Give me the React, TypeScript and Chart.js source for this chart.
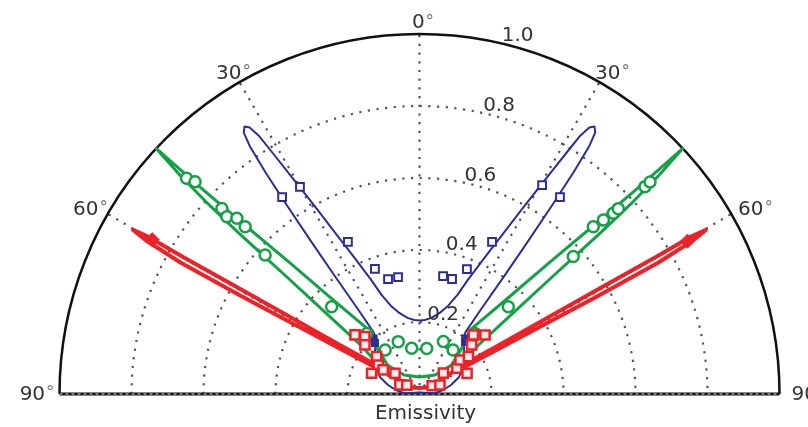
import React, { useEffect, useRef } from 'react';
import { Chart, registerables } from 'chart.js';

Chart.register(...registerables);

// ---- grid / labels ----
const RADIAL_TICKS = [0.2, 0.4, 0.6, 0.8, 1.0];
const RADIAL_LABELS = ['0.2', '0.4', '0.6', '0.8', '1.0'];
const SPOKE_ANGLES = [-90, -60, -30, 0, 30, 60, 90];
const ANGLE_LABELS = ['90°', '60°', '30°', '0°', '30°', '60°', '90°'];
const AXIS_TITLE = 'Emissivity';

// ---- blue curve (angle in degrees from normal, emissivity) ----
const BLUE_LINE_ANGLES = [
  0, -4, -9, -14, -18, -20.9, -23, -25.5, -27.5, -29.2, -30.5, -31.4, -31.9, -32.5, -33.2, -33.9, -34.4,
  -34.8, -35.1, -35.4, -35.7, -36.0, -36.6, -38.5, -41, -46, -52, -60, -67, -74, -80, -84, -87,
  0,
  87, 84, 80, 74, 67, 60, 52, 46, 41, 38.5, 36.6, 36.0, 35.7, 35.4, 35.1, 34.8,
  34.4, 33.9, 33.2, 32.5, 31.9, 31.4, 30.5, 29.2, 27.5, 25.5, 23, 20.9, 18, 14, 9, 4, 0,
];
const BLUE_LINE_R = [
  0.204, 0.206, 0.214, 0.232, 0.258, 0.294, 0.345, 0.42, 0.5, 0.6, 0.7, 0.79, 0.845, 0.878, 0.888, 0.875, 0.835,
  0.75, 0.64, 0.52, 0.4, 0.29, 0.215, 0.19, 0.186, 0.172, 0.153, 0.135, 0.119, 0.091, 0.068, 0.052, 0.04,
  0.004,
  0.04, 0.052, 0.068, 0.091, 0.119, 0.135, 0.153, 0.172, 0.188, 0.19, 0.215, 0.29, 0.4, 0.52, 0.64, 0.75,
  0.835, 0.875, 0.888, 0.878, 0.845, 0.79, 0.7, 0.6, 0.5, 0.42, 0.345, 0.294, 0.258, 0.232, 0.214, 0.206, 0.204,
];
const BLUE_SQ_ANGLES = [-34.9, -30, -25.2, -19.6, -15.3, -10.4, 11.3, 15.8, 20.8, 25.5, 30.4, 35.5];
const BLUE_SQ_R = [0.667, 0.664, 0.467, 0.369, 0.331, 0.33, 0.334, 0.332, 0.371, 0.468, 0.673, 0.672];
const BLUE_FILLED_ANGLES = [-41.1, -39.5, 41.2, 39.5];
const BLUE_FILLED_R = [0.188, 0.2, 0.192, 0.2];

// ---- green curve ----
const GREEN_LINE_ANGLES = [
  -53, -50.4, -49.2, -48.6, -48.3, -48.0, -47.6, -47.0,
  -46.9, -46.7, -46.1, -44.7, -42.8, -38.3, -42.7, -48, -39.2,
  0,
  39.2, 48, 42.7, 38.3, 42.8, 44.7, 46.1, 46.7, 46.9,
  47.0, 47.6, 48.0, 48.3, 48.6, 49.2, 50.4, 53,
];
const GREEN_LINE_R = [
  0.16, 0.206, 0.332, 0.483, 0.672, 0.8, 0.9, 1.0,
  0.95, 0.842, 0.697, 0.515, 0.37, 0.226, 0.173, 0.12, 0.068,
  0.047,
  0.068, 0.12, 0.173, 0.226, 0.37, 0.515, 0.697, 0.842, 0.95,
  1.0, 0.9, 0.8, 0.672, 0.483, 0.332, 0.206, 0.16,
];
const GREEN_CIRC_ANGLES = [
  -47.2, -46.6, -46.8, -47.4, -46.1, -46.2, -48, -45.2, -41, -38, -22.1, -9.7,
  9.0, 24.5, 37.3, 42.4, 45.5, 48.2, 46.1, 46.6, 47.0, 47.0, 47.4, 47.4,
];
const GREEN_CIRC_R = [
  0.882, 0.858, 0.753, 0.727, 0.704, 0.671, 0.577, 0.344, 0.223, 0.155, 0.157, 0.129,
  0.128, 0.16, 0.154, 0.228, 0.346, 0.573, 0.67, 0.703, 0.736, 0.755, 0.851, 0.87,
];

// ---- red curve ----
const RED_LINE_ANGLES = [
  -58.7, -60.3, -61.2, -61.2, -60.7, -60.2, -59.9, -59.9, -59.6, -58.4, -56, -57, -61, -49,
  0,
  49, 61, 57, 56, 58.4, 59.6, 59.9, 59.9, 60.2, 60.7, 61.2, 61.2, 60.3, 58.7,
];
const RED_LINE_R = [
  0.135, 0.254, 0.567, 0.755, 0.87, 0.917, 0.87, 0.755, 0.567, 0.254, 0.139, 0.081, 0.046, 0.027,
  0.017,
  0.027, 0.046, 0.081, 0.139, 0.254, 0.567, 0.755, 0.87, 0.917, 0.87, 0.755, 0.567, 0.254, 0.135,
];
const RED_SQ_ANGLES = [
  -47.5, -43.6, -48, -48.9, -54.9, -56.5, -66.6, -49.8, -65.2, -54.9,
  56.9, 66.3, 49, 55.4, 50, 52.6, 46.8, 42.4, 48, 66.5,
];
const RED_SQ_R = [
  0.243, 0.22, 0.204, 0.158, 0.14, 0.121, 0.145, 0.089, 0.06, 0.043,
  0.042, 0.062, 0.088, 0.126, 0.147, 0.171, 0.199, 0.222, 0.245, 0.144,
];
const RED_TIP_ANGLES = [-60, 60.3];
const RED_TIP_R = [0.857, 0.857];

const BLUE = '#2c2f8f';
const GREEN = '#16a048';
const RED = '#ec2229';
const TEXT = '#333333';
const FONT = '20px "DejaVu Sans", sans-serif';
const DEG_FONT = '17px "DejaVu Sans", sans-serif';

function toXY(angles: number[], radii: number[]) {
  return angles.map((a, i) => ({
    x: radii[i] * Math.sin((a * Math.PI) / 180),
    y: radii[i] * Math.cos((a * Math.PI) / 180),
  }));
}

const polarGrid = {
  id: 'polarGrid',
  beforeDatasetsDraw(chart: any) {
    const { ctx, scales } = chart;
    const cx = scales.x.getPixelForValue(0);
    const cy = scales.y.getPixelForValue(0);
    const R = scales.x.getPixelForValue(1) - cx;
    ctx.save();
    ctx.strokeStyle = '#555';
    ctx.lineWidth = 2.2;
    ctx.setLineDash([2.2, 6.5]);
    for (const t of RADIAL_TICKS) {
      if (t >= 1) continue;
      ctx.beginPath();
      ctx.arc(cx, cy, t * R, Math.PI, 2 * Math.PI);
      ctx.stroke();
    }
    for (const a of SPOKE_ANGLES) {
      if (Math.abs(a) === 90) continue;
      const rad = (a * Math.PI) / 180;
      ctx.beginPath();
      ctx.moveTo(cx, cy);
      ctx.lineTo(cx + R * Math.sin(rad), cy - R * Math.cos(rad));
      ctx.stroke();
    }
    ctx.setLineDash([]);
    ctx.strokeStyle = '#111';
    ctx.lineWidth = 2.5;
    ctx.beginPath();
    ctx.arc(cx, cy, R, Math.PI, 2 * Math.PI);
    ctx.stroke();
    ctx.lineWidth = 3;
    ctx.beginPath();
    ctx.moveTo(cx - R, cy);
    ctx.lineTo(cx + R, cy);
    ctx.stroke();
    ctx.strokeStyle = '#ddd';
    ctx.lineWidth = 1;
    ctx.setLineDash([3, 3]);
    ctx.beginPath();
    ctx.moveTo(cx - R, cy);
    ctx.lineTo(cx + R, cy);
    ctx.stroke();
    ctx.restore();
  },
  afterDatasetsDraw(chart: any) {
    const { ctx, scales } = chart;
    const cx = scales.x.getPixelForValue(0);
    const cy = scales.y.getPixelForValue(0);
    const R = scales.x.getPixelForValue(1) - cx;
    ctx.save();
    ctx.fillStyle = TEXT;
    ctx.textBaseline = 'middle';
    SPOKE_ANGLES.forEach((a, i) => {
      const rad = (a * Math.PI) / 180;
      const s = Math.abs(Math.sin(rad));
      const rl = R * 1.033 + 14 * s;
      const px = cx + rl * Math.sin(rad) + 3;
      const py = cy - rl * Math.cos(rad) + 8 * Math.abs(Math.sin(2 * rad)) + 1;
      const label = ANGLE_LABELS[i];
      const digits = label.slice(0, -1);
      const deg = label.slice(-1);
      ctx.font = FONT;
      const w1 = ctx.measureText(digits).width;
      ctx.font = DEG_FONT;
      const w2 = ctx.measureText(deg).width;
      const left = px - (w1 + w2) / 2;
      ctx.textAlign = 'left';
      ctx.font = FONT;
      ctx.fillStyle = TEXT;
      ctx.fillText(digits, left, py);
      ctx.font = DEG_FONT;
      ctx.fillStyle = '#777';
      ctx.fillText(deg, left + w1 + 1, py - 1);
    });
    ctx.fillStyle = TEXT;
    ctx.font = FONT;
    ctx.textAlign = 'center';
    const lab = (15 * Math.PI) / 180;
    RADIAL_TICKS.forEach((t, i) => {
      const px = cx + t * R * Math.sin(lab) + 5;
      const py = cy - t * R * Math.cos(lab) - 10;
      ctx.fillText(RADIAL_LABELS[i], px, py);
    });
    ctx.textBaseline = 'alphabetic';
    ctx.fillText(AXIS_TITLE, cx + 6, cy + 25);
    ctx.restore();
  },
};

export default function App() {
  const ref = useRef<HTMLCanvasElement | null>(null);
  useEffect(() => {
    if (!ref.current) return;
    const chart = new Chart(ref.current, {
      type: 'scatter',
      data: {
        datasets: [
          {
            label: 'red squares',
            data: toXY(RED_SQ_ANGLES, RED_SQ_R),
            pointStyle: 'rect',
            pointRadius: 6.5,
            pointBorderWidth: 2.5,
            pointBorderColor: RED,
            pointBackgroundColor: 'rgba(255,235,235,1)',
            showLine: false,
            order: 1,
            clip: false,
          },
          {
            label: 'red tips',
            data: toXY(RED_TIP_ANGLES, RED_TIP_R),
            pointStyle: 'rectRot',
            pointRadius: 7,
            pointBorderWidth: 1,
            pointBorderColor: RED,
            pointBackgroundColor: RED,
            showLine: false,
            order: 1,
            clip: false,
          },
          {
            label: 'green circles',
            data: toXY(GREEN_CIRC_ANGLES, GREEN_CIRC_R),
            pointStyle: 'circle',
            pointRadius: 5.5,
            pointBorderWidth: 2.5,
            pointBorderColor: GREEN,
            pointBackgroundColor: '#ffffff',
            showLine: false,
            order: 2,
            clip: false,
          },
          {
            label: 'red line',
            data: toXY(RED_LINE_ANGLES, RED_LINE_R),
            showLine: true,
            borderColor: RED,
            borderWidth: 4,
            borderJoinStyle: 'round',
            pointRadius: 0,
            tension: 0,
            order: 3,
            clip: false,
          },
          {
            label: 'green line',
            data: toXY(GREEN_LINE_ANGLES, GREEN_LINE_R),
            showLine: true,
            borderColor: GREEN,
            borderWidth: 3,
            borderJoinStyle: 'round',
            pointRadius: 0,
            tension: 0,
            order: 4,
            clip: false,
          },
          {
            label: 'blue filled',
            data: toXY(BLUE_FILLED_ANGLES, BLUE_FILLED_R),
            pointStyle: 'rect',
            pointRadius: 4.5,
            pointBorderWidth: 1.5,
            pointBorderColor: BLUE,
            pointBackgroundColor: BLUE,
            showLine: false,
            order: 2,
            clip: false,
          },
          {
            label: 'blue squares',
            data: toXY(BLUE_SQ_ANGLES, BLUE_SQ_R),
            pointStyle: 'rect',
            pointRadius: 5.5,
            pointBorderWidth: 2,
            pointBorderColor: BLUE,
            pointBackgroundColor: '#ffffff',
            showLine: false,
            order: 5,
            clip: false,
          },
          {
            label: 'blue line',
            data: toXY(BLUE_LINE_ANGLES, BLUE_LINE_R),
            showLine: true,
            borderColor: BLUE,
            borderWidth: 2,
            borderJoinStyle: 'round',
            pointRadius: 0,
            tension: 0,
            order: 6,
            clip: false,
          },
        ] as any,
      },
      options: {
        animation: false,
        responsive: false,
        events: [],
        layout: { padding: 0, autoPadding: false },
        plugins: { legend: { display: false }, tooltip: { enabled: false }, title: { display: false } },
        scales: {
          x: { type: 'linear', display: false, min: -419.5 / 360, max: (808 - 419.5) / 360 },
          y: { type: 'linear', display: false, min: -(427 - 394) / 360, max: 394 / 360 },
        },
      },
      plugins: [polarGrid],
    } as any);
    return () => chart.destroy();
  }, []);
  return (
    <div style={{ position: 'absolute', left: 0, top: 0, width: 808, height: 427, background: '#fff' }}>
      <canvas ref={ref} width={808} height={427} style={{ display: 'block' }} />
    </div>
  );
}
